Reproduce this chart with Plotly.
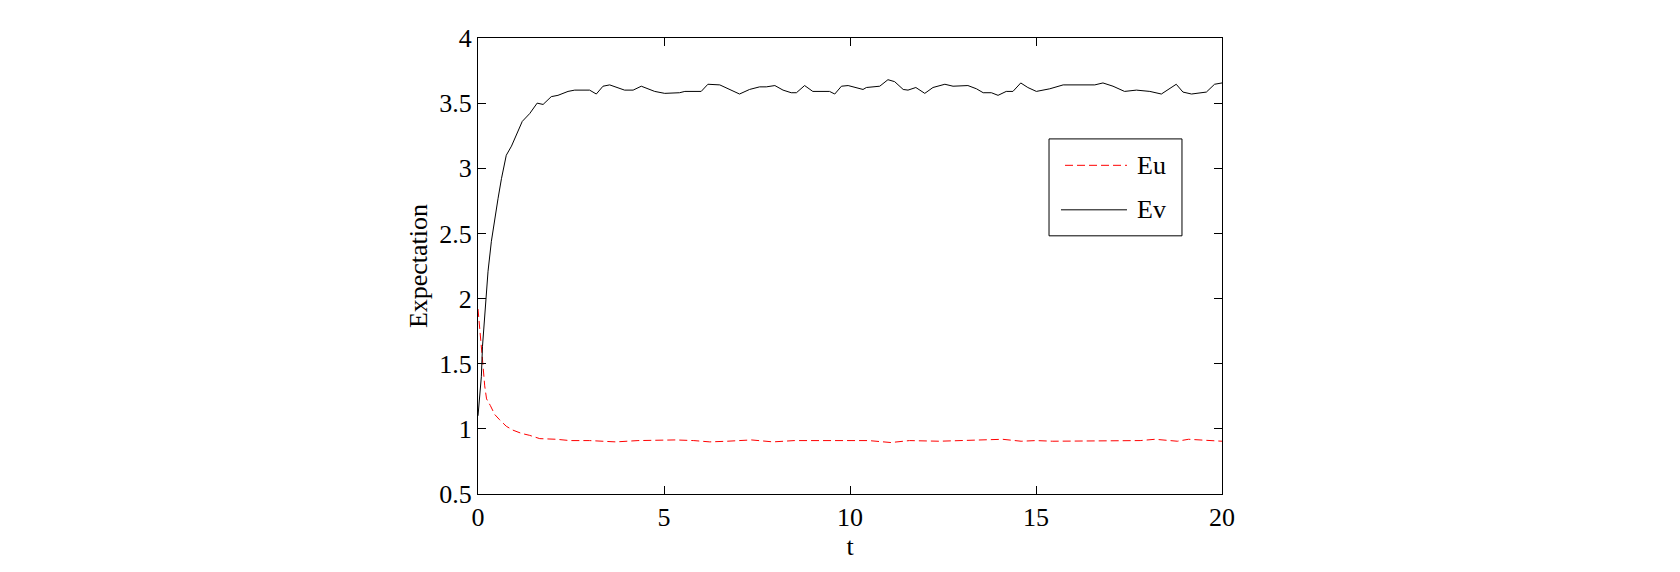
'''Expectation of u and v over time'''
import plotly.graph_objects as go

# Ev readings (t, value)
ev_t = [0.00, 0.09, 0.12, 0.21, 0.27, 0.36, 0.45, 0.54, 0.63, 0.76,
        0.90, 1.03, 1.19, 1.39, 1.59, 1.75, 1.97, 2.15, 2.42, 2.60,
        3.00, 3.18, 3.36, 3.54, 3.94, 4.17, 4.39, 4.75, 5.02, 5.42,
        5.56, 6.00, 6.18, 6.50, 7.03, 7.30, 7.57, 7.75, 7.98, 8.20,
        8.42, 8.56, 8.78, 9.00, 9.27, 9.45, 9.59, 9.77, 9.95, 10.35,
        10.44, 10.80, 11.02, 11.20, 11.43, 11.56, 11.77, 12.01, 12.23, 12.55,
        12.77, 13.17, 13.40, 13.58, 13.80, 13.98, 14.20, 14.38, 14.59, 14.78,
        15.01, 15.37, 15.73, 16.00, 16.22, 16.58, 16.80, 17.07, 17.38, 17.70,
        18.06, 18.37, 18.77, 18.95, 19.18, 19.58, 19.80, 20.00]
ev = [1.10, 1.40, 1.63, 1.99, 2.21, 2.44, 2.62, 2.77, 2.92, 3.10,
      3.17, 3.26, 3.36, 3.42, 3.50, 3.49, 3.55, 3.56, 3.59, 3.60,
      3.60, 3.57, 3.63, 3.64, 3.60, 3.60, 3.63, 3.59, 3.575, 3.58,
      3.59, 3.59, 3.645, 3.64, 3.57, 3.605, 3.625, 3.625, 3.635, 3.60,
      3.58, 3.58, 3.635, 3.59, 3.59, 3.59, 3.57, 3.63, 3.635, 3.605,
      3.62, 3.63, 3.68, 3.665, 3.605, 3.60, 3.62, 3.575, 3.62, 3.645,
      3.63, 3.635, 3.61, 3.58, 3.58, 3.56, 3.59, 3.59, 3.655, 3.62,
      3.59, 3.61, 3.64, 3.64, 3.645, 3.64, 3.655, 3.63, 3.59, 3.60,
      3.59, 3.57, 3.645, 3.585, 3.57, 3.585, 3.645, 3.655]

# Eu readings (t, value)
eu_t = [0.00, 0.09, 0.13, 0.18, 0.23, 0.33, 0.45, 0.58, 0.76, 0.94,
        1.17, 1.39, 1.66, 2.11, 2.47, 3.00, 3.63, 3.70, 4.30, 4.93,
        5.30, 5.80, 6.23, 6.70, 7.12, 7.35, 7.93, 8.50, 9.50, 10.50,
        11.10, 11.60, 12.40, 13.00, 13.75, 14.10, 14.60, 15.00, 15.45, 16.00,
        17.30, 17.80, 18.20, 18.80, 19.10, 19.50, 19.90, 20.00]
eu = [1.92, 1.66, 1.50, 1.33, 1.23, 1.18, 1.11, 1.07, 1.02, 0.99,
      0.965, 0.95, 0.925, 0.92, 0.91, 0.91, 0.905, 0.90, 0.91, 0.915,
      0.915, 0.91, 0.90, 0.905, 0.915, 0.915, 0.90, 0.91, 0.91, 0.91,
      0.895, 0.91, 0.905, 0.91, 0.92, 0.92, 0.905, 0.91, 0.905, 0.905,
      0.905, 0.91, 0.92, 0.905, 0.92, 0.915, 0.905, 0.905]

x_ticks = [0, 5, 10, 15, 20]
y_ticks = [0.5, 1, 1.5, 2, 2.5, 3, 3.5, 4]
y_tick_text = ['0.5', '1', '1.5', '2', '2.5', '3', '3.5', '4']

FONT = dict(family='Liberation Serif', size=26, color='black')

fig = go.Figure()
fig.add_trace(go.Scatter(x=eu_t, y=eu, mode='lines', name='Eu',
                         line=dict(color='red', width=1, dash='8px,4px')))
fig.add_trace(go.Scatter(x=ev_t, y=ev, mode='lines', name='Ev',
                         line=dict(color='black', width=1)))

axis_style = dict(showline=True, linecolor='black', linewidth=1, mirror='ticks',
                  ticks='inside', ticklen=8, tickcolor='black', tickwidth=1,
                  showgrid=False, zeroline=False, tickfont=FONT)

fig.update_xaxes(range=[0, 20], tickvals=x_ticks,
                 title=dict(text='t', font=FONT, standoff=2), **axis_style)
fig.update_yaxes(range=[0.5, 4], tickvals=y_ticks, ticktext=y_tick_text,
                 title=dict(text='Expectation', font=FONT, standoff=4), **axis_style)

# legend box drawn by hand, matching the boxed MATLAB legend
fig.add_shape(type='rect', xref='paper', yref='paper', x0=0.7675, x1=0.9462,
              y0=0.5662, y1=0.7787, line=dict(color='black', width=1),
              fillcolor='white', layer='above')
fig.add_shape(type='line', xref='paper', yref='paper', x0=0.7890, x1=0.8723,
              y0=0.7208, y1=0.7208, line=dict(color='red', width=1, dash='8px,4px'))
fig.add_shape(type='line', xref='paper', yref='paper', x0=0.7836, x1=0.8723,
              y0=0.6232, y1=0.6232, line=dict(color='black', width=1))
fig.add_annotation(text='Eu', xref='paper', yref='paper', x=0.8831, y=0.7208,
                   xanchor='left', yanchor='middle', showarrow=False, font=FONT)
fig.add_annotation(text='Ev', xref='paper', yref='paper', x=0.8831, y=0.6232,
                   xanchor='left', yanchor='middle', showarrow=False, font=FONT)

# page body adds 8px, so the figure is 16px smaller than the window
fig.update_layout(width=1664, height=556, showlegend=False,
                  paper_bgcolor='white', plot_bgcolor='white',
                  margin=dict(l=470, r=450, t=30, b=65), font=FONT)

fig.write_html('out.html')
